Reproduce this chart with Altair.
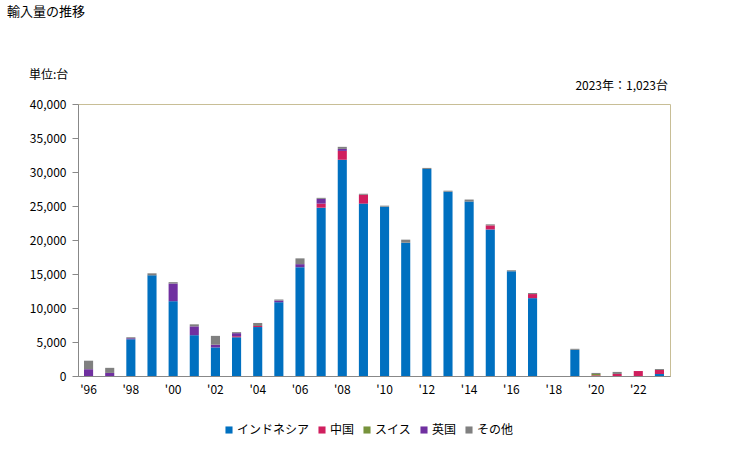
import altair as alt
import pandas as pd

years = list(range(1996, 2024))
series_names = ["インドネシア", "中国", "スイス", "英国", "その他"]
series_colors = ["#0070C0", "#D01F5E", "#77933C", "#7030A0", "#808080"]

indonesia = [0, 0, 5400, 14800, 11000, 6000, 4200, 5700, 7200, 10850, 16000, 24750, 31800, 25350,
             24900, 19600, 30450, 27100, 25650, 21550, 15400, 11450, 0, 3850, 0, 0, 0, 290]
china = [0, 0, 0, 0, 0, 0, 0, 150, 150, 0, 0, 600, 1300, 1300,
         0, 0, 0, 0, 0, 600, 0, 600, 0, 0, 100, 300, 730, 590]
swiss = [0, 0, 0, 0, 0, 0, 0, 0, 0, 0, 0, 0, 0, 0,
         0, 0, 0, 0, 0, 0, 0, 0, 0, 0, 200, 0, 0, 0]
uk = [1000, 450, 150, 0, 2600, 1300, 400, 450, 0, 250, 450, 700, 300, 0,
      0, 0, 0, 0, 0, 0, 0, 0, 0, 0, 0, 0, 0, 0]
other = [1250, 750, 150, 300, 200, 300, 1300, 150, 450, 150, 850, 150, 300, 150,
         150, 450, 150, 150, 300, 150, 150, 150, 0, 150, 150, 300, 0, 143]

y_ticks = [0, 5000, 10000, 15000, 20000, 25000, 30000, 35000, 40000]

title_text = "輸入量の推移"
unit_text = "単位:台"
note_text = "2023年：1,023台"

rows = []
for i, y in enumerate(years):
    for k, (name, vals) in enumerate(zip(series_names, [indonesia, china, swiss, uk, other])):
        rows.append({"year": y, "series": name, "value": vals[i], "order": k})
df = pd.DataFrame(rows)

FONT = "Noto Sans CJK JP"

bars = alt.Chart(df).mark_bar(width=alt.RelativeBandSize(0.43)).encode(
    x=alt.X("year:O", title=None,
            scale=alt.Scale(paddingInner=0, paddingOuter=0),
            axis=alt.Axis(labelAngle=0, ticks=False, labelPadding=8,
                          labelExpr="datum.value % 2 == 0 ? \"'\" + substring(toString(datum.value), 2, 4) : ''",
                          domainColor="#888888", labelFont=FONT, labelFontSize=12, labelColor="#000000")),
    y=alt.Y("value:Q", title=None, stack="zero",
            scale=alt.Scale(domain=[0, 40000], nice=False),
            axis=alt.Axis(values=y_ticks, format=",.0f", grid=False, tickSize=6, labelPadding=6,
                          domainColor="#888888", tickColor="#888888",
                          labelFont=FONT, labelFontSize=12, labelColor="#000000")),
    color=alt.Color("series:N", scale=alt.Scale(domain=series_names, range=series_colors),
                    legend=alt.Legend(title=None, orient="none", direction="horizontal",
                                      legendX=145, legendY=320, symbolType="square", symbolSize=50,
                                      symbolStrokeWidth=0, labelFont=FONT, labelFontSize=12,
                                      labelOffset=2, columnPadding=6, padding=0,
                                      labelColor="#000000")),
    order=alt.Order("order:Q", sort="ascending"),
)

title = alt.Chart(pd.DataFrame({"t": [title_text]})).mark_text(
    align="left", baseline="top", font=FONT, fontSize=13, color="#000000"
).encode(text="t:N", x=alt.value(-71), y=alt.value(-98))

unit = alt.Chart(pd.DataFrame({"t": [unit_text]})).mark_text(
    align="left", baseline="middle", font=FONT, fontSize=12, color="#000000"
).encode(text="t:N", x=alt.value(-49), y=alt.value(-29))

note = alt.Chart(pd.DataFrame({"t": [note_text]})).mark_text(
    align="right", baseline="middle", font=FONT, fontSize=12, color="#000000"
).encode(text="t:N", x=alt.value(590), y=alt.value(-18))

chart = alt.layer(bars, title, unit, note).properties(
    width=592, height=272,
    padding={"left": 78, "top": 104, "right": 59, "bottom": 74},
    autosize=alt.AutoSizeParams(type="none"),
    background="#FFFFFF",
).configure_view(stroke="#C8BE96", strokeWidth=1)

chart.save("out.html", embed_options={"renderer": "svg", "actions": False})
